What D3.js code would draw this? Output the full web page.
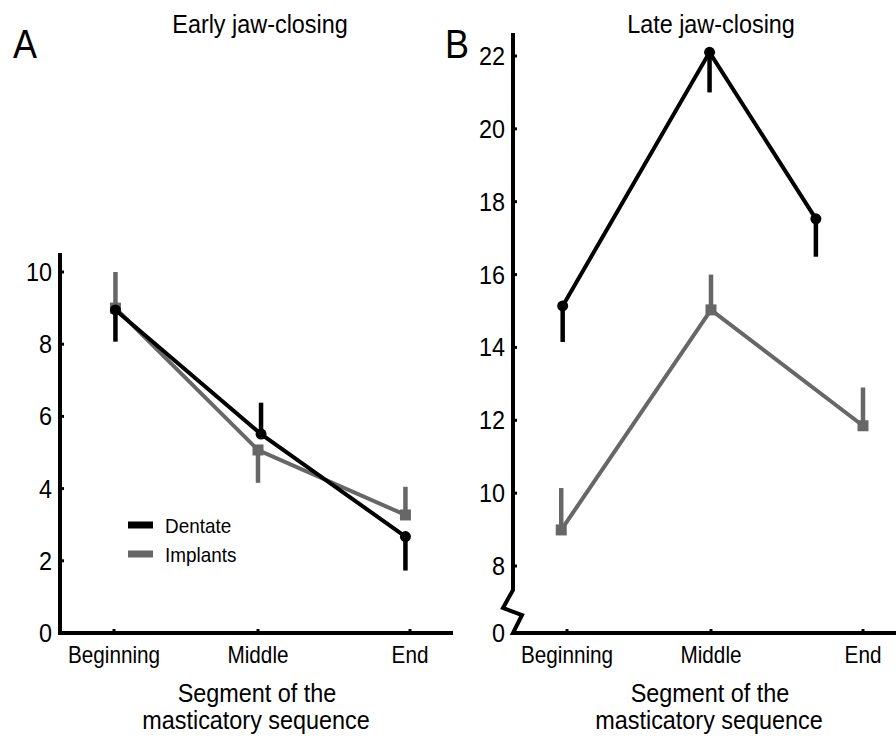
<!DOCTYPE html>
<html>
<head>
<meta charset="utf-8">
<script src="https://cdn.jsdelivr.net/npm/d3@7"></script>
<style>
    body { margin: 0; background: #fff; }
    svg text { font-family: "Liberation Sans", Arial, Helvetica, sans-serif; fill: #000; }
</style>
</head>
<body>
<svg id="chart" width="896" height="739"></svg>
<script>
    // categories along the masticatory sequence
    const segments = ["Beginning", "Middle", "End"];

    // panel A - early jaw-closing
    const dentateA = [8.95, 5.51, 2.67];
    const dentateA_err = [-0.88, 0.87, -0.94];
    const dentateA_pos = [0.01, 1.02, 1.97];
    const implantsA = [9.0, 5.07, 3.27];
    const implantsA_err = [1.0, -0.91, 0.78];
    const implantsA_pos = [0.01, 1.0, 1.97];
    const ticksA = [0, 2, 4, 6, 8, 10];

    // panel B - late jaw-closing (broken axis between 0 and 8)
    const dentateB = [15.14, 22.1, 17.53];
    const dentateB_err = [-0.99, -1.1, -1.04];
    const dentateB_pos = [-0.03, 0.99, 1.69];
    const implantsB = [8.99, 15.03, 11.85];
    const implantsB_err = [1.15, 0.97, 1.05];
    const implantsB_pos = [-0.04, 1.0, 2.0];
    const ticksB = [0, 8, 10, 12, 14, 16, 18, 20, 22];

    const black = "#000";
    const gray = "#676767";
    const squeeze = 0.9;   // the source figure is slightly narrow

    const svg = d3.select("#chart");

    function label(g, x, y, txt, size, anchor) {
        return g.append("text")
            .attr("transform", `translate(${x},${y}) scale(${squeeze},1)`)
            .attr("text-anchor", anchor || "middle")
            .style("font-size", size + "px")
            .text(txt);
    }

    function drawPanel(opts) {
        const g = svg.append("g").attr("transform", `translate(${opts.dx},0)`);
        const x = d3.scaleLinear().domain([0, 1, 2]).range([114, 258, 410]);
        const y = opts.y;

        // axes
        const x0 = 60, yBase = y(0);
        let axisPath;
        if (opts.broken) {
            axisPath = `M${x0},${opts.top} L${x0},590 L${x0 - 10},608 L${x0 + 9},615 L${x0},${yBase} L${opts.xEnd},${yBase}`;
        } else {
            axisPath = `M${x0},${opts.top} L${x0},${yBase} L${opts.xEnd},${yBase}`;
        }
        g.append("path").attr("d", axisPath)
            .attr("fill", "none").attr("stroke", black)
            .attr("stroke-width", 4).attr("stroke-linejoin", "miter");

        // y ticks (tiny inward nubs) and labels
        opts.ticks.forEach(t => {
            g.append("line").attr("x1", x0).attr("x2", x0 + 4)
                .attr("y1", y(t)).attr("y2", y(t))
                .attr("stroke", black).attr("stroke-width", 3);
            label(g, x0 - 8, y(t) + 9, t, 26, "end");
        });

        // x ticks and category labels
        segments.forEach((s, i) => {
            g.append("line").attr("x1", x(i)).attr("x2", x(i))
                .attr("y1", yBase).attr("y2", yBase - 4)
                .attr("stroke", black).attr("stroke-width", 3);
            label(g, x(i), 663, s, 23);
        });

        label(g, 257, 702, "Segment of the", 26);
        label(g, 256, 729, "masticatory sequence", 26);
        label(g, opts.titleX, 33, opts.title, 26);
        label(g, opts.letterX, 58, opts.letter, 40, "start");

        const line = d3.line().x(d => x(d.p)).y(d => y(d.v));

        function series(vals, errs, pos, color, marker) {
            const pts = vals.map((v, i) => ({ v: v, e: errs[i], p: pos[i] }));
            g.append("path").datum(pts).attr("d", line)
                .attr("fill", "none").attr("stroke", color)
                .attr("stroke-width", 4).attr("stroke-linejoin", "miter");
            g.selectAll(null).data(pts).enter().append("line")
                .attr("x1", d => x(d.p)).attr("x2", d => x(d.p))
                .attr("y1", d => y(d.v)).attr("y2", d => y(d.v + d.e))
                .attr("stroke", color).attr("stroke-width", 4.5);
            if (marker === "circle") {
                g.selectAll(null).data(pts).enter().append("circle")
                    .attr("cx", d => x(d.p)).attr("cy", d => y(d.v)).attr("r", 5.5)
                    .attr("fill", color);
            } else {
                g.selectAll(null).data(pts).enter().append("rect")
                    .attr("x", d => x(d.p) - 5.5).attr("y", d => y(d.v) - 5.5)
                    .attr("width", 11).attr("height", 11)
                    .attr("fill", color);
            }
        }

        series(opts.implants, opts.implantsErr, opts.implantsPos, gray, "square");
        series(opts.dentate, opts.dentateErr, opts.dentatePos, black, "circle");
        return g;
    }

    const gA = drawPanel({
        dx: 0, top: 253, xEnd: 453, broken: false,
        y: d3.scaleLinear().domain([0, 10]).range([633, 272]),
        ticks: ticksA, title: "Early jaw-closing", titleX: 260, letter: "A", letterX: 13,
        dentate: dentateA, dentateErr: dentateA_err, dentatePos: dentateA_pos,
        implants: implantsA, implantsErr: implantsA_err, implantsPos: implantsA_pos
    });

    drawPanel({
        dx: 453, top: 33, xEnd: 445, broken: true,
        y: d3.scaleLinear().domain([0, 8, 22]).range([633, 566, 56]),
        ticks: ticksB, title: "Late jaw-closing", titleX: 258, letter: "B", letterX: -8,
        dentate: dentateB, dentateErr: dentateB_err, dentatePos: dentateB_pos,
        implants: implantsB, implantsErr: implantsB_err, implantsPos: implantsB_pos
    });

    // legend (panel A)
    const legend = [["Dentate", black], ["Implants", gray]];
    legend.forEach((d, i) => {
        const ly = 525 + i * 29;
        gA.append("line").attr("x1", 128).attr("x2", 153)
            .attr("y1", ly).attr("y2", ly)
            .attr("stroke", d[1]).attr("stroke-width", 7);
        label(gA, 165, ly + 8, d[0], 21, "start");
    });
</script>
</body>
</html>
